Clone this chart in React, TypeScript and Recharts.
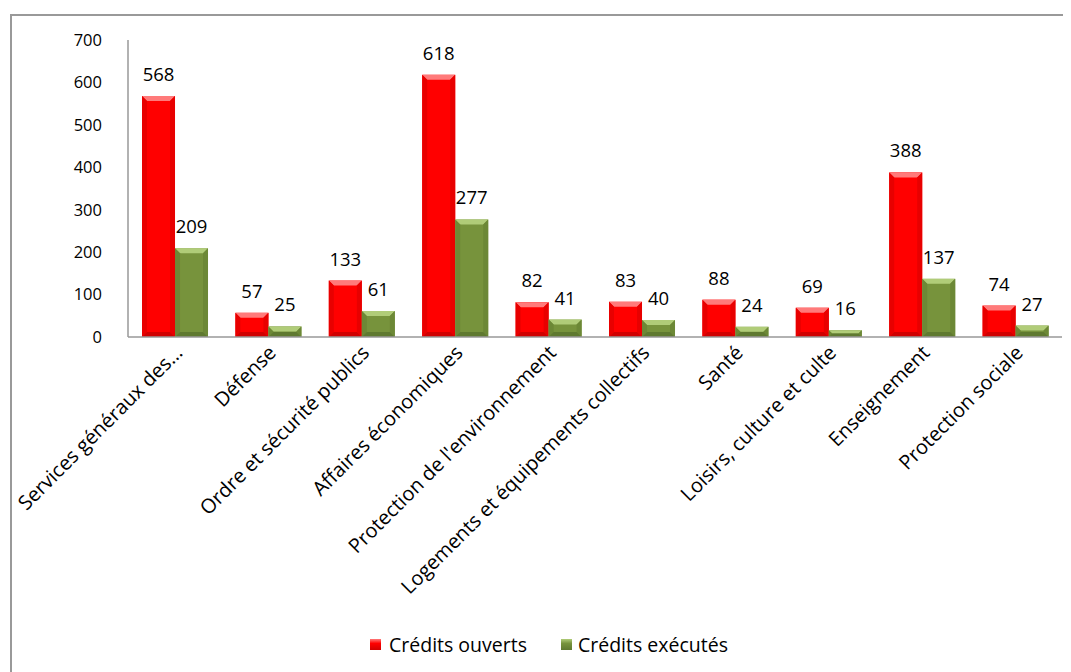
import React from "react";
import { BarChart, Bar, XAxis, YAxis, Legend, LabelList } from "recharts";

const categories = [
  "Services généraux des…",
  "Défense",
  "Ordre et sécurité publics",
  "Affaires économiques",
  "Protection de l'environnement",
  "Logements et équipements collectifs",
  "Santé",
  "Loisirs, culture et culte",
  "Enseignement",
  "Protection sociale",
];
const creditsOuverts = [568, 57, 133, 618, 82, 83, 88, 69, 388, 74];
const creditsExecutes = [209, 25, 61, 277, 41, 40, 24, 16, 137, 27];
const yTicks = [0, 100, 200, 300, 400, 500, 600, 700];

const data = categories.map((c, i) => ({
  name: c,
  ouverts: creditsOuverts[i],
  executes: creditsExecutes[i],
}));

const FONT = "'Open Sans', Lato, sans-serif";

const palette = {
  red: { base: "#ff0000", top: "#ff7a7a", side: "#e80000", bottom: "#d00000" },
  green: { base: "#77933c", top: "#b0cc78", side: "#6c8836", bottom: "#5f7930" },
};

const makeBevel = (c: typeof palette.red) => (props: any) => {
  const { x, y, width: w, height: h } = props;
  if (!h || h <= 0) return null;
  const b = Math.min(5, h / 2, w / 2);
  return (
    <g>
      <rect x={x} y={y} width={w} height={h} fill={c.base} />
      <polygon points={`${x},${y} ${x + w},${y} ${x + w - b},${y + b} ${x + b},${y + b}`} fill={c.top} />
      <polygon points={`${x},${y} ${x + b},${y + b} ${x + b},${y + h - b} ${x},${y + h}`} fill={c.side} />
      <polygon points={`${x + w},${y} ${x + w - b},${y + b} ${x + w - b},${y + h - b} ${x + w},${y + h}`} fill={c.side} />
      <polygon points={`${x},${y + h} ${x + b},${y + h - b} ${x + w - b},${y + h - b} ${x + w},${y + h}`} fill={c.bottom} />
    </g>
  );
};

const CatTick = (props: any) => {
  const { x, y, payload } = props;
  const ax = x + 9;
  const ay = y + 9;
  return (
    <text
      x={ax}
      y={ay}
      textAnchor="end"
      transform={`rotate(-45, ${ax}, ${ay})`}
      fontSize={20}
      fontFamily={FONT}
      fill="#000"
    >
      {payload.value}
    </text>
  );
};

const LegendContent = () => (
  <div style={{ display: "flex", fontFamily: FONT, fontSize: 19.5, color: "#000", alignItems: "center" }}>
    <span style={{ display: "inline-flex", alignItems: "center", marginRight: 34 }}>
      <span style={{ width: 11, height: 11, background: "linear-gradient(#ff7a7a, #ff0000 40%, #d00000)", marginRight: 8, display: "inline-block" }} />
      Crédits ouverts
    </span>
    <span style={{ display: "inline-flex", alignItems: "center" }}>
      <span style={{ width: 11, height: 11, background: "linear-gradient(#b0cc78, #77933c 40%, #5f7930)", marginRight: 6, display: "inline-block" }} />
      Crédits exécutés
    </span>
  </div>
);

export default function App() {
  return (
    <div
      style={{
        marginLeft: 2,
        marginTop: 6,
        borderTop: "2px solid #999",
        borderLeft: "2px solid #999",
        width: 1059,
        height: 656,
        background: "#fff",
      }}
    >
      <BarChart
        width={1059}
        height={656}
        data={data}
        margin={{ top: 24, right: 9, bottom: 0, left: 0 }}
        barGap={0}
        barCategoryGap="15%"
      >
        <XAxis
          dataKey="name"
          interval={0}
          tick={<CatTick />}
          tickLine={false}
          axisLine={{ stroke: "#999", strokeWidth: 1.5 }}
          height={295}
        />
        <YAxis
          domain={[0, 700]}
          ticks={yTicks}
          width={116}
          tickLine={false}
          tickSize={0}
          tickMargin={26}
          axisLine={{ stroke: "#999", strokeWidth: 1.5 }}
          tick={{ fontSize: 16.5, fontFamily: FONT, fill: "#000" }}
        />
        <Legend
          verticalAlign="bottom"
          height={40}
          content={<LegendContent />}
          wrapperStyle={{ left: 358, width: 440, bottom: 1 }}
        />
        <Bar dataKey="ouverts" name="Crédits ouverts" fill="#ff0000" shape={makeBevel(palette.red)} isAnimationActive={false}>
          <LabelList dataKey="ouverts" position="top" offset={15} style={{ fontSize: 18.5, fontFamily: FONT, fill: "#000" }} />
        </Bar>
        <Bar dataKey="executes" name="Crédits exécutés" fill="#77933c" shape={makeBevel(palette.green)} isAnimationActive={false}>
          <LabelList dataKey="executes" position="top" offset={15} style={{ fontSize: 18.5, fontFamily: FONT, fill: "#000" }} />
        </Bar>
      </BarChart>
    </div>
  );
}
